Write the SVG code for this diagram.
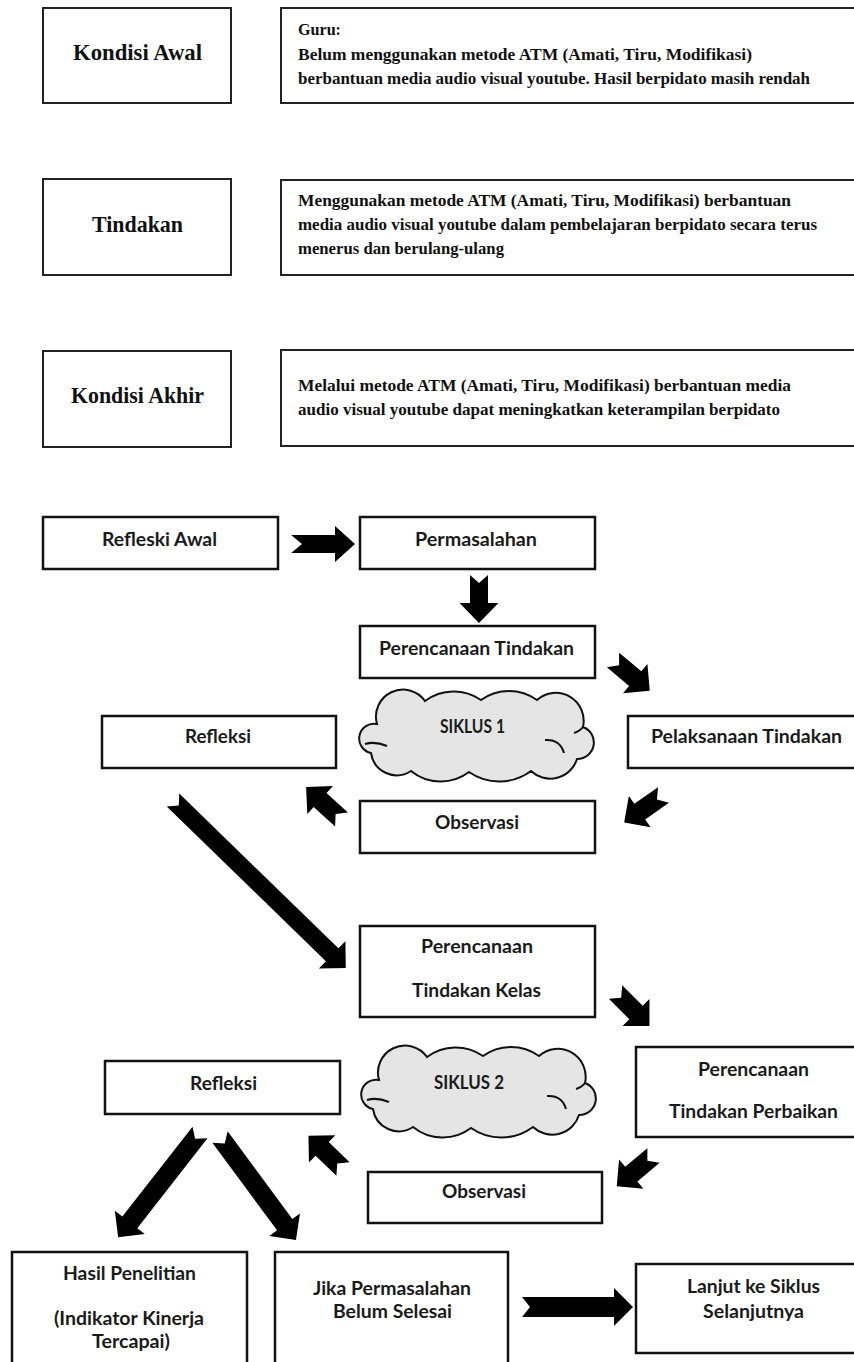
<svg xmlns="http://www.w3.org/2000/svg" xmlns:xlink="http://www.w3.org/1999/xlink" width="854" height="1362" viewBox="0 0 854 1362">
<style>
.box{fill:#fff;stroke:#222;stroke-width:2}
.box2{fill:#fff;stroke:#111;stroke-width:2.5}
.ttl{font-family:"Liberation Serif","Times New Roman",serif;font-weight:bold;font-size:24px;fill:#111;text-anchor:middle}
.par{font-family:"Liberation Serif","Times New Roman",serif;font-weight:bold;font-size:17.5px;fill:#111}
.lbl{font-family:Lato,"Open Sans",sans-serif;font-weight:bold;font-size:19.5px;fill:#1a1a1a;text-anchor:middle}
.cloud{fill:#e5e5e5;stroke:#111;stroke-width:2}
.inner{fill:none;stroke:#111;stroke-width:2}
.arr{fill:#000}
</style>
<defs>
<path id="arr48" d="M0,-9.5 L29,-9.5 L29,-19 L48,0 L29,19 L29,9.5 L0,9.5 L8,0 Z"/>
<path id="cloudShape" d="M12,62 A14,14 0 0 1 18,33 A27,27 0 0 1 66,10 A48,48 0 0 1 122,9 A48,48 0 0 1 178,9 A28,28 0 0 1 224,36 A16.5,16.5 0 0 1 218,68 A28,28 0 0 1 172,80 A53,53 0 0 1 110,81 A47,47 0 0 1 52,80 A26,26 0 0 1 12,62 Z"/>
<path id="cloudInner" d="M6,53 Q16,50 28,55 M224,36 Q221,40 215,42 M186,49 Q201,48 205,62"/>
</defs>
<rect width="854" height="1362" fill="#fff"/>

<!-- Top section -->
<g id="kondisi-awal">
<rect class="box" x="43" y="8" width="188" height="95"/>
<text class="ttl" x="137.5" y="60" textLength="129" lengthAdjust="spacingAndGlyphs">Kondisi Awal</text>
</g>
<g id="kondisi-awal-desc">
<rect class="box" x="281" y="8" width="620" height="95"/>
<text class="par" x="298" y="35" textLength="43" lengthAdjust="spacingAndGlyphs">Guru:</text>
<text class="par" x="298" y="60" textLength="454" lengthAdjust="spacingAndGlyphs">Belum menggunakan metode ATM (Amati, Tiru, Modifikasi)</text>
<text class="par" x="298" y="84" textLength="512" lengthAdjust="spacingAndGlyphs">berbantuan media audio visual youtube. Hasil berpidato masih rendah</text>
</g>
<g id="tindakan">
<rect class="box" x="43" y="179" width="188" height="96"/>
<text class="ttl" x="137.5" y="232" textLength="91" lengthAdjust="spacingAndGlyphs">Tindakan</text>
</g>
<g id="tindakan-desc">
<rect class="box" x="281" y="180" width="620" height="95"/>
<text class="par" x="298" y="206" textLength="493" lengthAdjust="spacingAndGlyphs">Menggunakan metode ATM (Amati, Tiru, Modifikasi) berbantuan</text>
<text class="par" x="298" y="230" textLength="519" lengthAdjust="spacingAndGlyphs" style="font-size:17px">media audio visual youtube dalam pembelajaran berpidato secara terus</text>
<text class="par" x="298" y="254" textLength="206" lengthAdjust="spacingAndGlyphs">menerus dan berulang-ulang</text>
</g>
<g id="kondisi-akhir">
<rect class="box" x="43" y="351" width="188" height="96"/>
<text class="ttl" x="137.5" y="403" textLength="133" lengthAdjust="spacingAndGlyphs">Kondisi Akhir</text>
</g>
<g id="kondisi-akhir-desc">
<rect class="box" x="281" y="350" width="620" height="96"/>
<text class="par" x="298" y="391" textLength="493" lengthAdjust="spacingAndGlyphs">Melalui metode ATM (Amati, Tiru, Modifikasi) berbantuan media</text>
<text class="par" x="298" y="415" textLength="482" lengthAdjust="spacingAndGlyphs">audio visual youtube dapat meningkatkan keterampilan berpidato</text>
</g>

<!-- Cycle nodes -->
<g id="refleksi-awal">
<rect class="box2" x="43" y="517" width="235" height="52"/>
<text class="lbl" x="159.5" y="546" textLength="115" lengthAdjust="spacingAndGlyphs">Refleski Awal</text>
</g>
<g id="permasalahan">
<rect class="box2" x="360" y="517" width="235" height="52"/>
<text class="lbl" x="476" y="546" textLength="122" lengthAdjust="spacingAndGlyphs">Permasalahan</text>
</g>
<g id="perencanaan-tindakan">
<rect class="box2" x="360" y="626" width="235" height="52"/>
<text class="lbl" x="476.5" y="655" textLength="195" lengthAdjust="spacingAndGlyphs">Perencanaan Tindakan</text>
</g>
<g id="refleksi-1">
<rect class="box2" x="102" y="716" width="234" height="52"/>
<text class="lbl" x="218" y="743" textLength="66" lengthAdjust="spacingAndGlyphs">Refleksi</text>
</g>
<g id="siklus-1">
<use href="#cloudShape" class="cloud" transform="translate(359,691)"/>
<use href="#cloudInner" class="inner" transform="translate(359,691)"/>
<text class="lbl" x="472.5" y="733" textLength="65" lengthAdjust="spacingAndGlyphs">SIKLUS 1</text>
</g>
<g id="pelaksanaan-tindakan">
<rect class="box2" x="628" y="716" width="280" height="52"/>
<text class="lbl" x="746.5" y="743" textLength="191" lengthAdjust="spacingAndGlyphs">Pelaksanaan Tindakan</text>
</g>
<g id="observasi-1">
<rect class="box2" x="360" y="801" width="235" height="52"/>
<text class="lbl" x="477" y="829" textLength="84" lengthAdjust="spacingAndGlyphs">Observasi</text>
</g>
<g id="perencanaan-tindakan-kelas">
<rect class="box2" x="360" y="926" width="235" height="91"/>
<text class="lbl" x="477" y="953" textLength="112" lengthAdjust="spacingAndGlyphs">Perencanaan</text>
<text class="lbl" x="476.5" y="997" textLength="129" lengthAdjust="spacingAndGlyphs">Tindakan Kelas</text>
</g>
<g id="refleksi-2">
<rect class="box2" x="105" y="1061" width="235" height="53"/>
<text class="lbl" x="223.5" y="1090" textLength="67" lengthAdjust="spacingAndGlyphs">Refleksi</text>
</g>
<g id="siklus-2">
<use href="#cloudShape" class="cloud" transform="translate(361,1047)"/>
<use href="#cloudInner" class="inner" transform="translate(361,1047)"/>
<text class="lbl" x="469" y="1089" textLength="70" lengthAdjust="spacingAndGlyphs">SIKLUS 2</text>
</g>
<g id="perencanaan-tindakan-perbaikan">
<rect class="box2" x="636" y="1047" width="272" height="90"/>
<text class="lbl" x="753.5" y="1076" textLength="111" lengthAdjust="spacingAndGlyphs">Perencanaan</text>
<text class="lbl" x="753.5" y="1118" textLength="169" lengthAdjust="spacingAndGlyphs">Tindakan Perbaikan</text>
</g>
<g id="observasi-2">
<rect class="box2" x="368" y="1172" width="234" height="51"/>
<text class="lbl" x="484" y="1198" textLength="84" lengthAdjust="spacingAndGlyphs">Observasi</text>
</g>
<g id="hasil-penelitian">
<rect class="box2" x="12" y="1252" width="235" height="150"/>
<text class="lbl" x="129.5" y="1280" textLength="133" lengthAdjust="spacingAndGlyphs">Hasil Penelitian</text>
<text class="lbl" x="129" y="1325" textLength="150" lengthAdjust="spacingAndGlyphs">(Indikator Kinerja</text>
<text class="lbl" x="131" y="1348" textLength="78" lengthAdjust="spacingAndGlyphs">Tercapai)</text>
</g>
<g id="jika-permasalahan">
<rect class="box2" x="275" y="1252" width="233" height="150"/>
<text class="lbl" x="392" y="1295" textLength="158" lengthAdjust="spacingAndGlyphs">Jika Permasalahan</text>
<text class="lbl" x="392.5" y="1318" textLength="119" lengthAdjust="spacingAndGlyphs">Belum Selesai</text>
</g>
<g id="lanjut-siklus">
<rect class="box2" x="636" y="1264" width="272" height="89"/>
<text class="lbl" x="753.5" y="1293" textLength="133" lengthAdjust="spacingAndGlyphs">Lanjut ke Siklus</text>
<text class="lbl" x="753.5" y="1318" textLength="101" lengthAdjust="spacingAndGlyphs">Selanjutnya</text>
</g>

<!-- Connectors -->
<g id="connectors" class="arr">
<path d="M0,-9 L44,-9 L44,-18 L64,0 L44,18 L44,9 L0,9 L11,0 Z" transform="translate(291,544)"/>
<path d="M0,-9 L28,-9 L28,-19.5 L48,0 L28,19.5 L28,9 L0,9 L8,0 Z" transform="translate(479,575) rotate(90)"/>
<use href="#arr48" transform="translate(613,660) rotate(40)"/>
<use href="#arr48" transform="translate(663.5,795) rotate(145)"/>
<use href="#arr48" transform="translate(341.5,819.5) rotate(222.5)"/>
<path d="M0,-9 L222,-9 L222,-19 L241,0 L222,19 L222,9 L0,9 L8,0 Z" transform="translate(173,800) rotate(44.2)"/>
<use href="#arr48" transform="translate(615.5,992) rotate(45)"/>
<use href="#arr48" transform="translate(653.5,1155.5) rotate(140)"/>
<use href="#arr48" transform="translate(343,1169) rotate(224)"/>
<path d="M0,-9.5 L114,-9.5 L114,-19 L133,0 L114,19 L114,9.5 L0,9.5 L8,0 Z" transform="translate(200,1132.5) rotate(128)"/>
<path d="M0,-9.5 L109,-9.5 L109,-19 L128,0 L109,19 L109,9.5 L0,9.5 L8,0 Z" transform="translate(220,1137) rotate(53.6)"/>
<path d="M0,-10 L92,-10 L92,-19 L111,0 L92,19 L92,10 L0,10 L8,0 Z" transform="translate(522,1307)"/>
</g>
</svg>
